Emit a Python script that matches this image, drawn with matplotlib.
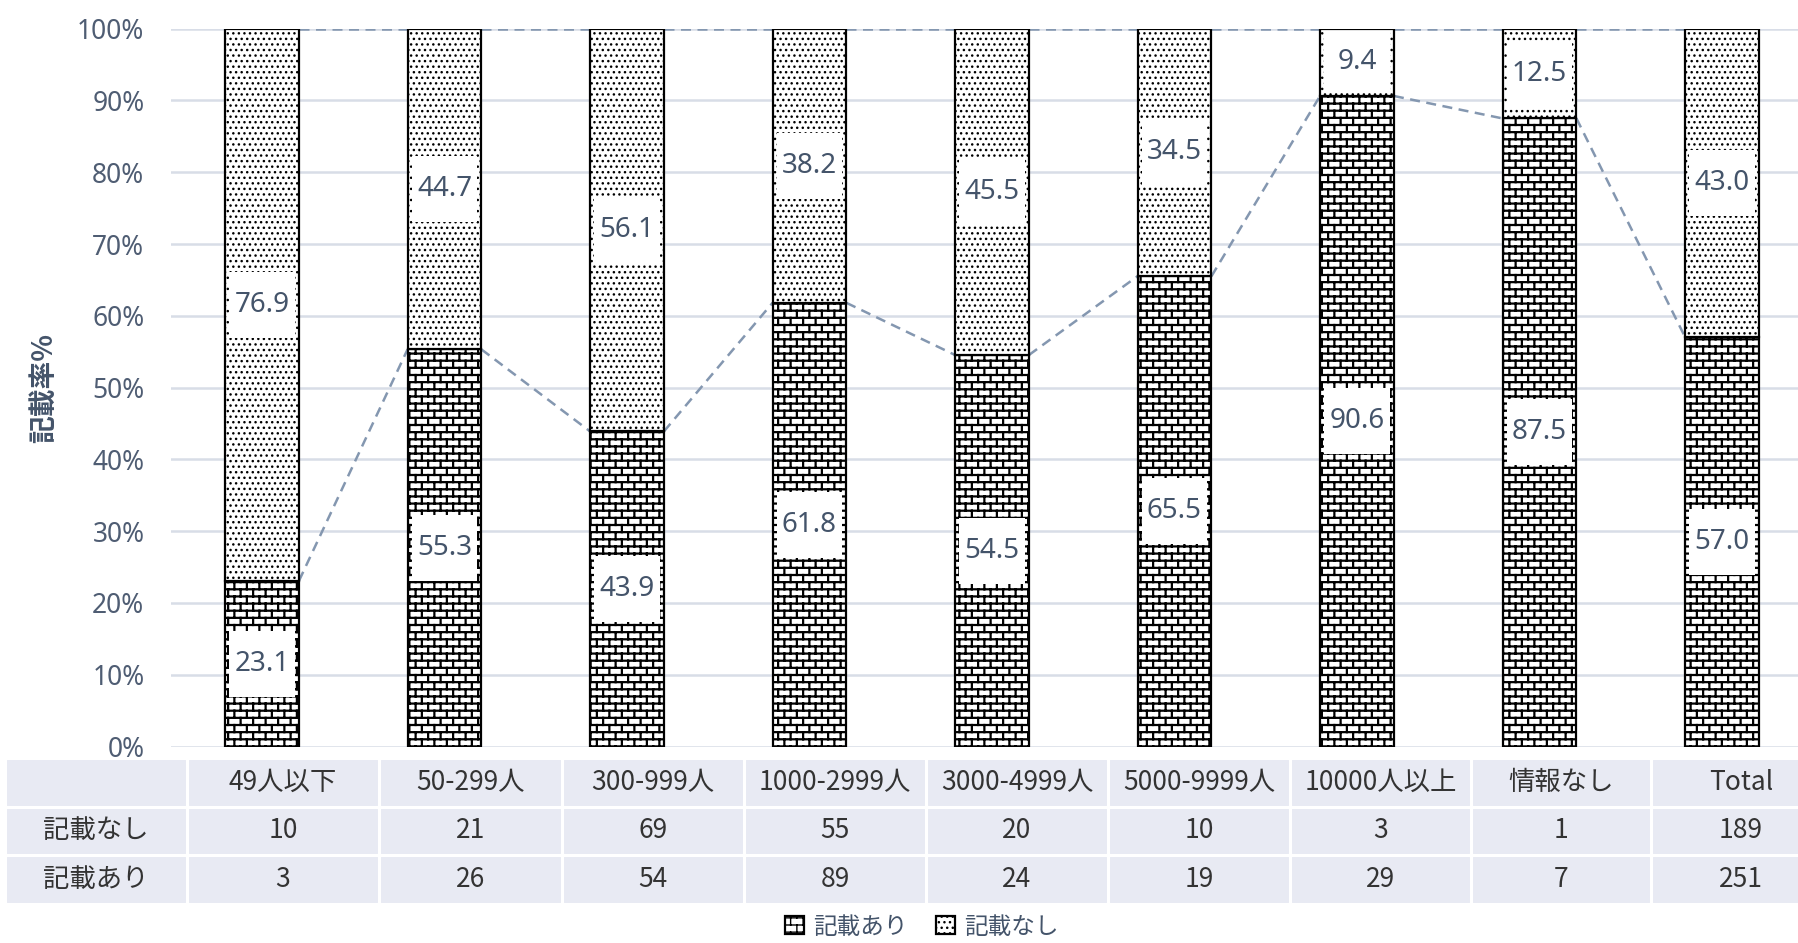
import warnings
import numpy as np
import matplotlib
matplotlib.use("Agg")
import matplotlib.pyplot as plt
import matplotlib.hatch as mhatch
from matplotlib.path import Path
from matplotlib.patches import Rectangle

warnings.filterwarnings("ignore")

# ---- data -------------------------------------------------------------
categories = ["49人以下", "50-299人", "300-999人", "1000-2999人", "3000-4999人",
              "5000-9999人", "10000人以上", "情報なし", "Total"]
count_ari = [3, 26, 54, 89, 24, 19, 29, 7, 251]      # 記載あり
count_nashi = [10, 21, 69, 55, 20, 10, 3, 1, 189]    # 記載なし
series_names = ["記載あり", "記載なし"]
table_rows = ["記載なし", "記載あり"]
yticks = [0, 10, 20, 30, 40, 50, 60, 70, 80, 90, 100]
ylabel = "記載率%"

# ---- style ------------------------------------------------------------
TEXT = "#44546A"
TICK = "#4F5D73"
GRID = "#D8DDE7"
SERIES_LINE = "#8497B0"
TABLE_BG = "#E8EAF3"
TABLE_TEXT = "#333333"
CJK = ["Noto Sans CJK JP", "DejaVu Sans"]
plt.rcParams["font.family"] = ["Noto Sans", "Noto Sans CJK JP", "DejaVu Sans"]


class BrickHatch(mhatch.HatchPatternBase):
    """Running-bond brick pattern, selected with 'b' in a hatch string."""
    courses = 14
    bricks = 8

    def __init__(self, hatch, density):
        n = hatch.count("b")
        self.segs = []
        if n:
            rows, cols = self.courses * n, self.bricks * n
            h, w = 1.0 / rows, 1.0 / cols
            for r in range(rows):
                y = (r + 0.5) * h
                self.segs.append(((0.0, y), (1.0, y)))
            for r in range(rows):
                shift = 0.75 if r % 2 else 0.25
                y0, y1 = (r + 0.5) * h, (r + 1.5) * h
                for c in range(cols):
                    xx = (c + shift) * w
                    if y1 > 1.0:
                        self.segs.append(((xx, y0), (xx, 1.0)))
                        self.segs.append(((xx, 0.0), (xx, y1 - 1.0)))
                    else:
                        self.segs.append(((xx, y0), (xx, y1)))
        self.num_vertices = 2 * len(self.segs)

    def set_vertices_and_codes(self, vertices, codes):
        vertices[:] = np.array(self.segs, dtype=float).reshape(-1, 2)
        codes[0::2] = Path.MOVETO
        codes[1::2] = Path.LINETO


mhatch._hatch_types.append(BrickHatch)

# ---- figure -----------------------------------------------------------
W, H = 1798, 943
fig = plt.figure(figsize=(W / 100, H / 100), dpi=100)
ax_l, ax_r, ax_top, ax_bot = 170.75, 1813.25, 28.7, 746.5
ax_w, ax_h = ax_r - ax_l, ax_bot - ax_top
ax = fig.add_axes([ax_l / W, (H - ax_bot) / H, ax_w / W, ax_h / H])

a = np.array(count_ari, dtype=float)
n = np.array(count_nashi, dtype=float)
share_ari = 100 * a / (a + n)
share_nashi = 100 * n / (a + n)
total = share_ari + share_nashi

x = np.arange(len(categories))
bw = 0.405

bars_a = ax.bar(x, share_ari, bw, color="white", edgecolor="black",
                linewidth=1.6, hatch="b", zorder=2, label=series_names[0])
bars_n = ax.bar(x, share_nashi, bw, bottom=share_ari, color="white",
                edgecolor="black", linewidth=1.6, hatch="...", zorder=2,
                label=series_names[1])
for p in bars_a.patches:
    if hasattr(p, "set_hatch_linewidth"):
        p.set_hatch_linewidth(1.6)
for p in bars_n.patches:
    if hasattr(p, "set_hatch_linewidth"):
        p.set_hatch_linewidth(1.0)

# series lines joining the segment tops of neighbouring columns
for tops in (share_ari, total):
    for i in range(len(x) - 1):
        ax.plot([x[i] + bw / 2, x[i + 1] - bw / 2], [tops[i], tops[i + 1]],
                color=SERIES_LINE, linewidth=1.8, linestyle=(0, (4, 2.6)),
                zorder=1.5)

# value labels on white boxes
box_h = 66 / ax_h * 100
for bars, vals in ((bars_a, share_ari), (bars_n, share_nashi)):
    for rect, v in zip(bars.patches, vals):
        cx = rect.get_x() + rect.get_width() / 2
        cy = rect.get_y() + rect.get_height() / 2
        hh = min(box_h, rect.get_height() - 0.9)
        ww = rect.get_width() * 0.88
        ax.add_patch(Rectangle((cx - ww / 2, cy - hh / 2), ww, hh,
                               facecolor="white", edgecolor="none", zorder=3))
        ax.text(cx, cy, f"{v:.1f}", ha="center", va="center",
                fontsize=20, color=TEXT, zorder=4)

ax.set_xlim(-0.5, len(x) - 0.5)
ax.set_ylim(0, 100)
ax.set_yticks(yticks)
ax.set_yticklabels([f"{t}%" for t in yticks])
ax.set_xticks([])
ax.tick_params(axis="y", length=0, pad=19, labelsize=19, labelcolor=TICK)
ax.yaxis.grid(True, color=GRID, linewidth=1.8)
ax.set_axisbelow(True)
for s in ax.spines.values():
    s.set_visible(False)

ax.set_ylabel(ylabel, fontsize=20, fontweight="bold", color=TEXT, family=CJK)
ax.yaxis.set_label_coords((58 - ax_l) / ax_w, 0.5)

# data table under the plot
cell_text = [[""] + categories,
             [table_rows[0]] + [str(v) for v in count_nashi],
             [table_rows[1]] + [str(v) for v in count_ari]]
col_px = [182, 192, 183, 182, 182, 182, 182, 181, 180, 180]
tab_top, tab_bot = 758.5, 903.5
tab = ax.table(cellText=cell_text, cellLoc="center",
               colWidths=[c / sum(col_px) for c in col_px],
               bbox=[(5 - ax_l) / ax_w, -(tab_bot - ax_bot) / ax_h,
                     sum(col_px) / ax_w, (tab_bot - tab_top) / ax_h])
tab.auto_set_font_size(False)
for (r, c), cell in tab.get_celld().items():
    cell.set_facecolor(TABLE_BG)
    cell.set_edgecolor("white")
    cell.set_linewidth(2.2)
    t = cell.get_text()
    t.set_fontsize(19)
    t.set_color(TABLE_TEXT)
    t.set_family(CJK)

fig.legend(handles=[bars_a, bars_n], labels=series_names, loc="center",
           bbox_to_anchor=(922 / W, 1 - 927 / H), ncol=2, frameon=False,
           prop={"family": CJK, "size": 17}, labelcolor=TEXT,
           handlelength=0.8, handleheight=0.8, handletextpad=0.4,
           columnspacing=1.2, borderpad=0)

fig.savefig("out.png", dpi=100)
